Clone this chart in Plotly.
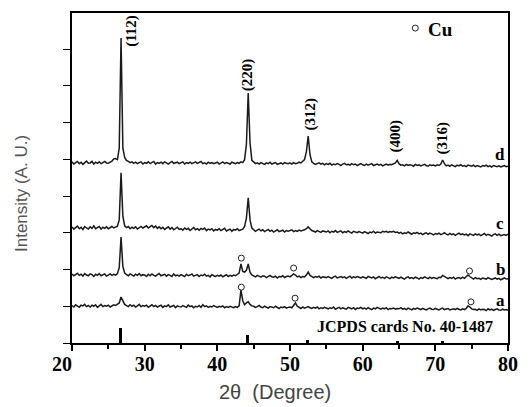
import plotly.graph_objects as go

# 2-theta sampling grid (degrees), 0.25 deg step from 20 to 80
two_theta = [20 + 0.25 * i for i in range(241)]

# Intensities (counts, 100 counts = 1 y unit), per sample
int_d = [
    8, 2, 6, 9, 3, 7, 1, 6, 10, 4, 5, 9, 2, 7, 4, 8, 3, 6, 9, 5,
    4, 7, 10, 16, 17, 14, 45, 345, 45, 20,
    12, 9, 6, 8, 4, 7, 3, 6, 8, 2,
    6, 4, 8, 3, 5, 9, 2, 6, 4, 7, 3, 8, 5, 2, 6, 9, 4, 5, 7, 3,
    5, 8, 2, 6, 4, 7, 3, 5, 8, 4, 6, 9, 3, 5, 2, 7, 4, 6, 3, 5,
    7, 2, 5, 8, 3, 6, 4, 2, 7, 5, 3, 6, 4, 8, 6, 14,
    55, 195, 60, 12,
    8, 3, 5, 2, 6, 4, 1, 5, 3, 7, 2, 4, 6, 1, 3, 5, 2, 6, 4, 3,
    5, 2, 6, 3, 4, 7, 5, 9, 14, 35, 78, 28, 8, 4, 1, 3, 5, 2, 4, 0,
    3, 1, 4, -1, 2, 0, 3, 1, -2, 2, 4, 0, 1, -1, 3, 0, 2, -2, 1, 3,
    0, -2, 2, -1, 1, 3, -2, 0, 2, -1, 1, -3, 0, 2, -1, 1, 0, 3, 5, 12,
    3, -1, 0, -3, 1, -2, 0, -1, -4, 1, -2, 0, -3, -1, 1, -2, -4, 0, -2, -1,
    -3, 0, -2, 2, 13, 3, -3, -1, -4, 0, -2, -5, -1, -3, 0, -4, -2, -5, -1, -3,
    -4, -1, -5, -2, -3, -6, -2, -4, -1, -5, -3, -6, -2, -4, -5, -3, -6, -4, -2, -5, -4,
]
int_c = [
    11, 5, 9, 13, 6, 10, 4, 12, 8, 5, 11, 7, 14, 6, 9, 12, 5, 10, 7, 11,
    6, 9, 12, 8, 10, 13, 30, 158, 40, 14,
    9, 12, 6, 10, 7, 11, 5, 9, 12, 8,
    10, 14, 8, 12, 15, 9, 13, 7, 11, 6, 10, 4, 8, 11, 5, 9, 3, 7, 10, 4,
    6, 2, 8, 4, 7, 1, 5, 9, 3, 6, 2, 7, 4, 8, 1, 5, 3, 6, 0, 4,
    2, 6, 1, 4, 7, 0, 3, 5, -1, 4, 2, 6, 1, 3, 5, 12,
    35, 90, 30, 8,
    3, -1, 2, 5, 0, 3, -2, 1, 4, -1, 2, -3, 1, 3, -2, 0, 2, -3, 1, -1,
    0, 3, -2, 1, -1, 2, 0, 1, 3, 6, 11, 6, 1, -1, -3, 1, -1, -4, 0, -2,
    -3, 0, -5, -1, -3, 1, -4, -2, 0, -5, -2, -4, 0, -3, -6, -1, -3, -5, -2, -4,
    -6, -2, -4, -7, -3, -5, -1, -6, -3, -4, -5, -1, -3, -1, -4, -2, -3, -1, -4, -3,
    -6, -4, -8, -5, -7, -3, -6, -9, -5, -7, -4, -8, -6, -10, -7, -5, -9, -6, -8, -11,
    -7, -9, -6, -10, -8, -5, -9, -11, -7, -10, -8, -12, -9, -6, -10, -8, -11, -9, -13, -8,
    -10, -12, -8, -11, -9, -13, -10, -7, -12, -9, -11, -14, -10, -8, -12, -9, -13, -11, -10, -12, -9,
]
int_b = [
    8, 3, 6, 10, 4, 7, 2, 9, 5, 3, 8, 6, 1, 7, 4, 9, 3, 6, 8, 2,
    5, 8, 4, 7, 5, 9, 25, 108, 28, 10,
    6, 3, 8, 5, 2, 7, 4, 9, 3, 6,
    5, 1, 7, 3, 8, 4, 2, 6, 9, 3, 5, 7, 2, 6, 4, 1, 8, 3, 5, 2,
    6, 4, 1, 7, 3, 5, 8, 2, 4, 6, 1, 5, 3, 7, 2, 4, 0, 6, 3, 1,
    4, 2, 5, 0, 3, 6, 1, 4, 2, 5, 3, 7, 10, 35, 15, 13,
    18, 35, 12, 5,
    3, 0, 4, 1, -1, 3, 2, -2, 1, 4, 0, -1, 2, -3, 1, 0, 3, -2, 1, 2,
    0, 4, 8, 5, 0, 2, -2, 1, 0, 5, 13, 4, 0, -2, 1, -1, 2, -3, 0, -1,
    -2, 1, -1, -4, 0, 2, -3, -1, 1, -2, 0, -4, -1, 2, -3, 0, -2, 1, -1, -3,
    0, -2, -4, 1, -1, -3, 0, -5, -2, 1, -3, -1, -4, 0, -2, -5, -1, -3, 0, -2,
    -4, -1, -3, -6, -2, 0, -4, -2, -5, -1, -3, -6, -2, -4, 0, -3, -5, -1, -4, -2,
    -3, -5, -1, -2, 4, 1, -3, -5, -2, -4, -1, -6, -3, -2, -5, -1, -4, 0, 5, 1,
    -3, -6, -2, -5, -4, -7, -3, -5, -6, -2, -4, -7, -5, -3, -6, -4, -8, -5, -3, -6, -5,
]
int_a = [
    7, 3, 9, 5, 2, 8, 6, 10, 4, 7, 3, 8, 5, 9, 2, 6, 10, 4, 7, 5,
    8, 3, 6, 9, 7, 10, 14, 30, 18, 10,
    7, 4, 9, 5, 8, 3, 6, 10, 4, 7,
    5, 8, 2, 6, 9, 4, 7, 3, 5, 8, 2, 6, 4, 9, 3, 5, 7, 1, 6, 4,
    3, 7, 5, 2, 8, 4, 6, 1, 5, 3, 7, 2, 9, 4, 6, 2, 5, 3, 7, 4,
    2, 5, 3, 6, 1, 4, 2, 5, 3, 1, 4, 2, 6, 49, 20, 9,
    14, 17, 10, 6,
    5, 2, 4, 7, 3, 1, 5, 2, 0, 4, 3, 1, 5, 2, -1, 3, 1, 4, 0, 2,
    3, 1, 8, 14, 5, 2, -1, 3, 0, 2, 4, 1, -1, 2, 0, 3, -2, 1, -1, 2,
    0, -2, 1, -1, 3, -3, 0, 2, -2, 1, -1, -3, 2, 0, -2, 1, -4, 0, -1, 2,
    -2, 0, -3, 1, -1, -4, 0, -2, 2, -1, -3, 0, -2, 1, -4, -1, -2, 0, -3, -1,
    -2, 1, -3, -1, -4, 0, -2, -5, -1, -3, 0, -2, -4, -1, -3, -5, -2, 0, -3, -4,
    -1, -3, -5, -2, 0, -4, -2, -1, -5, -3, -2, -4, -1, -3, -5, -2, -4, -1, 6, 3,
    -2, -4, -3, -6, -2, -5, -3, -4, -7, -2, -5, -3, -6, -4, -2, -5, -6, -3, -5, -4, -6,
]

series_names = ["a", "b", "c", "d"]
series_offsets = [0.95, 1.80, 3.05, 4.85]
series_counts = [int_a, int_b, int_c, int_d]

# JCPDS 40-1487 reference lines
jcpds_pos = [26.7, 44.2, 52.4, 64.8, 71.0]
jcpds_int = [41, 22, 9, 3, 4]

# Cu markers (open circles)
cu_x = [43.3, 50.5, 74.7, 43.3, 50.7, 74.9]
cu_y = [2.31, 2.04, 1.96, 1.52, 1.22, 1.12]

# Peak labels
hkl_labels = ["(112)", "(220)", "(312)", "(400)", "(316)"]
hkl_x = [28.1, 44.1, 52.8, 64.5, 71.0]
hkl_y = [8.49, 7.29, 6.23, 5.63, 5.58]

label_y = [1.17, 1.99, 3.24, 5.12]

x_ticks = [20, 30, 40, 50, 60, 70, 80]
x_ticktext = ["20\u00a0\u00a0\u00a0\u00a0", "30", "40", "50", "60", "70", "80"]

serif = "Liberation Serif, Times New Roman, serif"
sans = "Liberation Sans, Arial, sans-serif"

fig = go.Figure()
for name, off, cnts in zip(series_names, series_offsets, series_counts):
    fig.add_trace(go.Scatter(
        x=two_theta, y=[off + c / 100 for c in cnts], mode="lines",
        line=dict(color="#1a1a1a", width=1.5), name=name, showlegend=False))

fig.add_trace(go.Bar(x=jcpds_pos, y=[v / 100 for v in jcpds_int], width=0.4,
                     marker=dict(color="black", line=dict(width=0)), showlegend=False))

fig.add_trace(go.Scatter(x=cu_x, y=cu_y, mode="markers",
                         marker=dict(symbol="circle-open", size=6, color="#222", line=dict(width=1)),
                         showlegend=False))
fig.add_trace(go.Scatter(x=[67.24], y=[8.57], mode="markers",
                         marker=dict(symbol="circle-open", size=6, color="#222", line=dict(width=1)),
                         showlegend=False))

ann = []
for t, x, y in zip(hkl_labels, hkl_x, hkl_y):
    ann.append(dict(x=x, y=y, text="<b>%s</b>" % t, textangle=-90, showarrow=False,
                    font=dict(family=serif, size=15, color="black"), xanchor="center", yanchor="middle"))
for n, y in zip(series_names, label_y):
    ann.append(dict(x=78.95, y=y, text="<b>%s</b>" % n, showarrow=False,
                    font=dict(family=serif, size=17, color="black"), xanchor="center", yanchor="middle"))
ann.append(dict(x=70.7, y=8.52, text="<b>Cu</b>", showarrow=False,
                font=dict(family=serif, size=19, color="black"), xanchor="center", yanchor="middle"))
ann.append(dict(x=65.8, y=0.44, text="<b>JCPDS cards No. 40-1487</b>", showarrow=False,
                font=dict(family=serif, size=16, color="black"), xanchor="center", yanchor="middle"))
ann.append(dict(xref="paper", yref="paper", x=-0.1143, y=0.452, text="Intensity (A. U.)",
                textangle=-90, showarrow=False, xanchor="center", yanchor="middle",
                font=dict(family=sans, size=17, color="#555")))
ann.append(dict(xref="paper", yref="paper", x=0.466, y=-0.148, text="2θ  (Degree)",
                showarrow=False, xanchor="center", yanchor="middle",
                font=dict(family=sans, size=20, color="#444")))

fig.update_layout(
    width=529, height=407,
    margin=dict(l=72, r=11, t=13, b=64),
    paper_bgcolor="white", plot_bgcolor="white",
    annotations=ann, bargap=0,
)
fig.update_xaxes(range=[20, 80], tickvals=x_ticks, ticktext=x_ticktext,
                 ticks="outside", ticklen=6, tickwidth=1.5, tickcolor="black",
                 minor=dict(ticks="outside", ticklen=4, tick0=25, dtick=10, tickcolor="black"),
                 showline=True, linewidth=1.5, linecolor="black", mirror=True,
                 showgrid=False, zeroline=False, ticklabelstandoff=-4,
                 tickfont=dict(family=serif, size=20, color="black", weight="bold"))
fig.update_yaxes(range=[0, 8.98], tickvals=[0, 1, 2, 3, 4, 5, 6, 7, 8],
                 ticks="outside", ticklen=7, tickwidth=1.2, tickcolor="black",
                 showticklabels=False,
                 showline=True, linewidth=1.5, linecolor="black", mirror=True,
                 showgrid=False, zeroline=False)
fig.write_html("out.html", config={"displayModeBar": False},
               post_script="document.body.style.margin='0px';")
